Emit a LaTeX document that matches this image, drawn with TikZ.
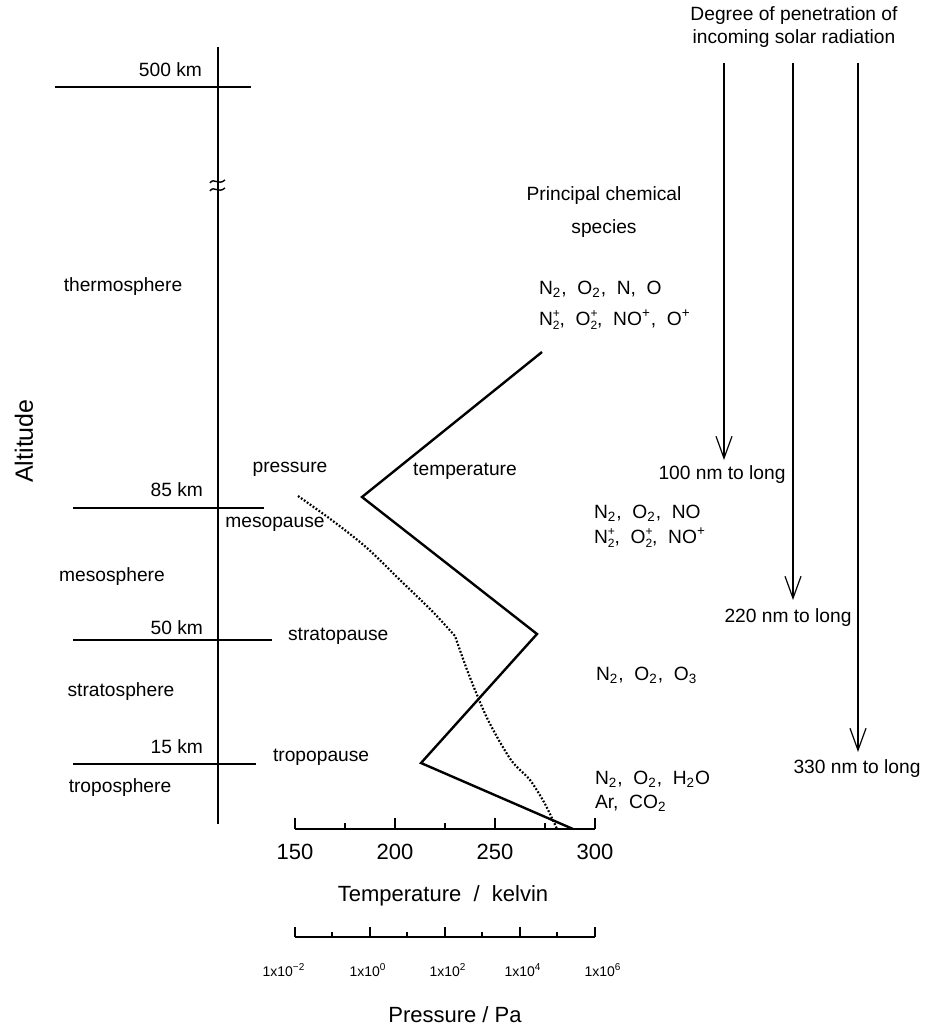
\documentclass[tikz,border=0pt]{standalone}
\usepackage{fontspec}
\setmainfont{Liberation Sans}
\usetikzlibrary{arrows.meta}

\newcommand\chsub[1]{\textsubscript{#1}}
\newcommand\chion[1]{\makebox[0pt][l]{\raisebox{0.8ex}{\fontsize{6}{6}\selectfont +}}\raisebox{-0.45ex}{\fontsize{6}{6}\selectfont #1}}

\tikzset{
  axisline/.style={line width=0.7pt},
  templine/.style={line width=1.2pt},
  presline/.style={line width=1.1pt, dash pattern=on 0.9pt off 0.9pt},
  ray/.style={line width=0.6pt, -{Straight Barb[length=11pt,width=8pt,line width=0.6pt]}},
  bigtext/.style={font=\fontsize{11}{13}\selectfont},
  smalltext/.style={font=\fontsize{7}{8}\selectfont}
}

\begin{document}
\begin{tikzpicture}[x=0.5pt,y=-0.5pt,font=\fontsize{9.6}{11.5}\selectfont]
  \useasboundingbox (0,0) rectangle (926,1026);

  % altitude axis and layer limits
  \coordinate (alttop) at (218,47);
  \coordinate (altbot) at (218,824);
  \draw[axisline] (alttop) -- (altbot);
  \draw[axisline] (210,183) .. controls (214,177) and (218,186) .. (225,180)
                  (210,191) .. controls (214,185) and (218,194) .. (225,188);

  \coordinate (l500a) at (55,87);   \coordinate (l500b) at (251,87);
  \coordinate (l85a)  at (73,508);  \coordinate (l85b)  at (264,508);
  \coordinate (l50a)  at (73,640);  \coordinate (l50b)  at (272,640);
  \coordinate (l15a)  at (73,764);  \coordinate (l15b)  at (256,764);
  \draw[axisline] (l500a) -- (l500b);
  \draw[axisline] (l85a) -- (l85b);
  \draw[axisline] (l50a) -- (l50b);
  \draw[axisline] (l15a) -- (l15b);

  \node[anchor=east] (k500) at (209,70)  {500 km};
  \node[anchor=east] (k85)  at (210,490) {85 km};
  \node[anchor=east] (k50)  at (210,628) {50 km};
  \node[anchor=east] (k15)  at (210,747) {15 km};

  \node (thermo) at (123,287) {thermosphere};
  \node (meso)   at (112,577) {mesosphere};
  \node (strato) at (121,692) {stratosphere};
  \node (tropo)  at (120,788) {troposphere};
  \node[font=\fontsize{12.5}{14}\selectfont, rotate=90] (alt) at (24,441) {Altitude};

  \node (mesop)        at (275,524) {mesopause};
  \node[anchor=west] (stratop) at (281,636) {stratopause};
  \node[anchor=west] (tropop)  at (266,757) {tropopause};
  \node (preslbl)      at (290,469) {pressure};
  \node (templbl)      at (465,471) {temperature};

  % temperature profile
  \coordinate (T1) at (542,352);
  \coordinate (T2) at (362,497);
  \coordinate (T3) at (537,634);
  \coordinate (T4) at (421,763);
  \coordinate (T5) at (573,829);
  \draw[templine] (T1) -- (T2) -- (T3) -- (T4) -- (T5);

  % pressure profile
  \draw[presline] plot[smooth] coordinates {(298,496) (333,521) (367,548) (400,580) (432,611) (455,636)}
    -- plot[smooth] coordinates {(455,636) (469,675) (488,720) (511,760) (530,780) (545,804) (557,829)};

  % temperature scale
  \coordinate (tax0) at (295,829);
  \coordinate (tax1) at (595,829);
  \draw[axisline] (tax0) -- (tax1);
  \foreach \x/\t in {295/150,395/200,495/250,595/300} {
    \draw[axisline] (\x,818) -- (\x,829);
    \node[bigtext] at (\x,852) {\t};
  }
  \foreach \x in {345,445,545}
    \draw[axisline] (\x,823) -- (\x,829);
  \node[bigtext] (tlbl) at (443,896) {Temperature~~/~~kelvin};

  % pressure scale
  \coordinate (pax0) at (295,937);
  \coordinate (pax1) at (595,937);
  \draw[axisline] (pax0) -- (pax1);
  \foreach \x in {295,370,445,520,595}
    \draw[axisline] (\x,927) -- (\x,937);
  \foreach \x in {332,407,482,557}
    \draw[axisline] (\x,932) -- (\x,937);
  \node[smalltext] at (284,970) {1x10\textsuperscript{−2}};
  \node[smalltext] at (368,970) {1x10\textsuperscript{0}};
  \node[smalltext] at (448,970) {1x10\textsuperscript{2}};
  \node[smalltext] at (523,970) {1x10\textsuperscript{4}};
  \node[smalltext] at (603,970) {1x10\textsuperscript{6}};
  \node[bigtext] (plbl) at (455,1015) {Pressure / Pa};

  % chemical species
  \node[align=center] (chem) at (604,212) {Principal chemical\\[5pt]species};
  \node[anchor=west] (c1a) at (532,289) {N\chsub{2},~~O\chsub{2},~~N,~~O};
  \node[anchor=west] (c1b) at (532,320) {N\chion{2},~~O\chion{2},~~NO\textsuperscript{+},~~O\textsuperscript{+}};
  \node[anchor=west] (c2a) at (587,513) {N\chsub{2},~~O\chsub{2},~~NO};
  \node[anchor=west] (c2b) at (587,538) {N\chion{2},~~O\chion{2},~~NO\textsuperscript{+}};
  \node[anchor=west] (c3)  at (589,675) {N\chsub{2},~~O\chsub{2},~~O\chsub{3}};
  \node[anchor=west] (c4a) at (588,779) {N\chsub{2},~~O\chsub{2},~~H\chsub{2}O};
  \node[anchor=west] (c4b) at (588,803) {Ar,~~CO\chsub{2}};

  % solar radiation
  \node[align=center] (solar) at (794,27) {Degree of penetration of\\incoming solar radiation};
  \coordinate (r1s) at (724,63);  \coordinate (r1e) at (724,460);
  \coordinate (r2s) at (793,63);  \coordinate (r2e) at (793,600);
  \coordinate (r3s) at (858,63);  \coordinate (r3e) at (858,752);
  \draw[ray] (r1s) -- (r1e);
  \draw[ray] (r2s) -- (r2e);
  \draw[ray] (r3s) -- (r3e);
  \node (w1) at (722,475) {100 nm to long};
  \node (w2) at (788,618) {220 nm to long};
  \node (w3) at (857,769) {330 nm to long};
\end{tikzpicture}
\end{document}
